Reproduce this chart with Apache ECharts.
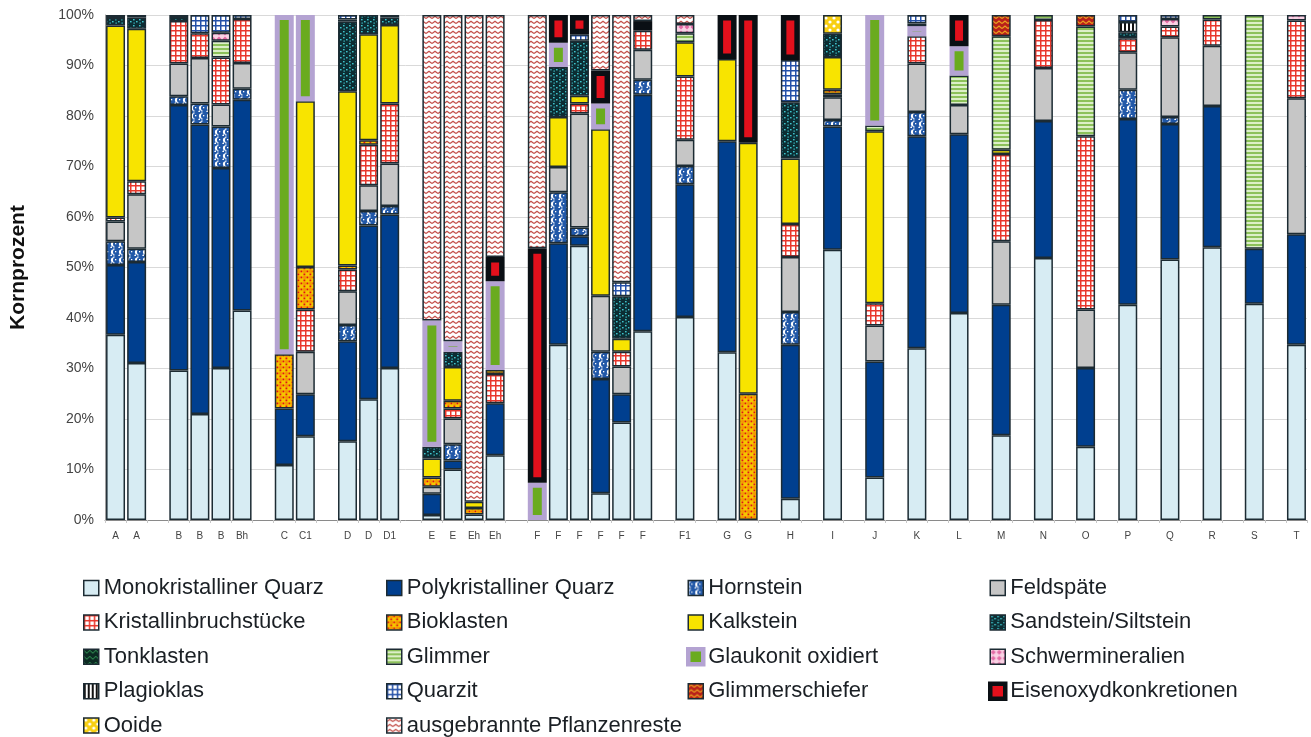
<!DOCTYPE html>
<html><head><meta charset="utf-8">
<script src="https://cdn.jsdelivr.net/npm/echarts@6/dist/echarts.min.js"></script>
<style>html,body{margin:0;padding:0;background:#fff}#c{width:1311px;height:737px}</style>
</head><body><div id="c"></div>
<script>
// x slots ('' = empty gap slot)
const categories = ['A','A','','B','B','B','Bh','','C','C1','','D','D','D1','','E','E','Eh','Eh','','F','F','F','F','F','F','','F1','','G','G','','H','','I','','J','','K','','L','','M','','N','','O','','P','','Q','','R','','S','','T'];
const yTicks = [0,10,20,30,40,50,60,70,80,90,100];
// values per real bar (order: A A | B B B Bh | C C1 | D D D1 | E E Eh Eh | F F F F F F | F1 | G G | H I J K L M N O P Q R S T)
const mono   = [36.7,31.1, 29.6,21.0,30.1,41.5, 10.9,16.6, 15.6,23.9,30.1, 1.0,10.0,1.1,12.8, 0,34.7,54.3,5.3,19.3,37.4, 40.2, 33.2,0, 4.2,53.5,8.4,34.0,41.0,16.8,51.9,14.5,42.6,51.6,54.0,42.8,34.7];
const poly   = [13.8,20.0, 52.6,57.3,39.6,41.7, 11.2,8.3, 19.8,34.4,30.4, 4.2,1.8,0,10.3, 0,20.1,1.9,22.6,5.6,46.8, 26.3, 41.8,0, 30.5,24.4,23.0,42.0,35.4,25.8,27.1,15.6,36.8,26.8,28.0,10.9,21.9];
const horn   = [4.7,2.6, 1.7,4.2,8.2,2.2, 0,0, 3.2,2.9,1.7, 0,3.2,0,0, 0,10.1,1.7,5.4,0,3.0, 3.6, 0,0, 6.5,1.3,0,4.8,0,0,0,0,5.8,1.4,0,0,0];
const feld   = [3.9,10.8, 6.5,9.0,4.4,5.1, 0,8.4, 6.7,5.1,8.4, 1.4,5.1,0,0, 0,5.0,22.6,11.1,5.5,5.9, 5.2, 0,0, 10.9,4.5,7.1,9.6,5.8,12.6,10.5,11.6,7.4,15.8,11.9,0,26.9];
const krist  = [0.8,2.6, 8.4,4.9,9.3,8.7, 0,8.4, 4.3,8.0,11.9, 0,2.0,0,5.8, 0,0,2.0,0,2.9,3.8, 12.5, 0,0, 6.5,0.6,4.4,5.4,0,17.3,9.5,34.3,2.8,2.1,5.2,0,15.4];
const bio    = [0,0, 0,0,0,0, 10.7,8.4, 0.8,0.9,0, 1.8,1.5,1.3,0.8, 0,0,0,0,0,0, 0, 0,25.0, 0,0.9,0,0,0,0,0,0,0,0,0,0,0];
const kalk   = [38.0,30.2, 0,0,0,0, 0,32.8, 34.5,21.0,15.5, 3.8,6.7,1.2,0, 0,9.9,1.5,33.0,2.6,0, 6.8, 16.3,49.7, 13.0,6.5,34.1,0,0,0.8,0,0,0,0,0,0,0];
const sand   = [1.5,2.2, 0.8,0,0,0, 0,0, 13.8,3.8,1.5, 2.3,3.0,0,0, 0,9.9,10.9,0,8.4,0, 0, 0,0, 11.1,4.6,0,0,0,0,0,0,1.2,0,0,0,0];
const ton    = [0.6,0, 0,0,0,0, 0,0, 0,0,0, 0,0,0,0, 0,0,0,0,0,0, 0, 0,0, 0,0,0,0,0,0,0,0,0,0,0,0,0];
const glim   = [0,0.5, 0,0,3.3,0, 0,0, 0.4,0,0.5, 0,0,0,0, 0,0,0,0,0,0, 1.8, 0,0, 0,0,1.1,0,5.8,22.5,1.0,21.7,0,0,0.9,46.3,0];
const glauk  = [0,0, 0,0,0,0, 67.2,17.1, 0,0,0, 25.0,2.1,0,17.6, 7.4,4.8,0,5.1,0,0, 0, 0,0, 0,0,21.9,2.0,5.8,0,0,0,0,0,0,0,0];
const schwer = [0,0, 0,0,1.6,0, 0,0, 0,0,0, 0,0,0,0, 0,0,0,0,0,0, 1.8, 0,0, 0,0,0,0,0,0,0,0,0,1.5,0,0,1.1];
const plag   = [0,0, 0,0,0,0, 0,0, 0,0,0, 0,0,0,0, 0,0,0,0,0,0, 0, 0,0, 0,0,0,0.5,0,0,0,0,2.0,0,0,0,0];
const quarzit= [0,0, 0,3.6,3.5,0.8, 0,0, 0.9,0,0, 0,0,0,0, 0,0,1.3,0,2.8,0, 0, 0,0, 8.4,0,0,1.7,0,0,0,0,1.4,0.8,0,0,0];
const gschie = [0,0, 0.4,0,0,0, 0,0, 0,0,0, 0,0,0,0, 0,0,0,0,0,0, 0, 0,0, 0,0,0,0,0,4.2,0,2.3,0,0,0,0,0];
const eisen  = [0,0, 0,0,0,0, 0,0, 0,0,0, 0,0,0,4.8, 46.4,5.5,3.8,6.5,0,1.9, 0, 8.7,25.3, 8.9,0,0,0,6.2,0,0,0,0,0,0,0,0];
const ooide  = [0,0, 0,0,0,0, 0,0, 0,0,0, 0,0,0,0, 0,0,0,0,0,0, 0, 0,0, 0,3.7,0,0,0,0,0,0,0,0,0,0,0];
const pflanz = [0,0, 0,0,0,0, 0,0, 0,0,0, 60.5,64.6,96.4,47.9, 46.2,0,0,11.0,52.9,1.2, 1.8, 0,0, 0,0,0,0,0,0,0,0,0,0,0,0,0];

function tile(w,h,draw){const c=document.createElement('canvas');c.width=w;c.height=h;const g=c.getContext('2d');draw(g);return {image:c,repeat:'repeat'};}
const P = {
  horn: tile(8,8,g=>{g.fillStyle='#fff';g.fillRect(0,0,8,8);g.fillStyle='#2158a8';g.beginPath();g.arc(4,4,3,0,7);g.fill();g.beginPath();g.arc(0,0,1.8,0,7);g.arc(8,0,1.8,0,7);g.arc(0,8,1.8,0,7);g.arc(8,8,1.8,0,7);g.fill();g.fillStyle='#fff';g.fillRect(3,3,1.3,1.3);}),
  krist: tile(5,5,g=>{g.fillStyle='#e8372c';g.fillRect(0,0,5,5);g.fillStyle='#fff';g.fillRect(1.5,1.5,3.5,3.5);}),
  quarzit: tile(5,5,g=>{g.fillStyle='#2450a8';g.fillRect(0,0,5,5);g.fillStyle='#fff';g.fillRect(1.5,1.5,3.5,3.5);}),
  bio: tile(6,6,g=>{g.fillStyle='#f6c600';g.fillRect(0,0,6,6);g.fillStyle='#f39a00';g.beginPath();g.arc(4.5,1.5,1.6,0,7);g.fill();g.fillStyle='#e0101a';g.fillRect(0.5,0.5,1.8,1.8);g.fillRect(3.5,3.5,1.8,1.8);}),
  sand: tile(6,6,g=>{g.fillStyle='#0c2d33';g.fillRect(0,0,6,6);g.fillStyle='#3fc3cc';g.fillRect(1,1,1.6,1.4);g.fillRect(4,3,1.6,1.4);g.fillRect(1.5,4.5,1.3,1.2);}),
  ton: tile(6,6,g=>{g.fillStyle='#0b2a22';g.fillRect(0,0,6,6);g.strokeStyle='#36a05a';g.lineWidth=1;g.beginPath();g.moveTo(0,1);g.lineTo(3,4);g.lineTo(6,1);g.stroke();}),
  glim: tile(4,4,g=>{g.fillStyle='#dcefc8';g.fillRect(0,0,4,4);g.fillStyle='#8cc15a';g.fillRect(0,0,4,2);}),
  schwer: tile(6,6,g=>{g.fillStyle='#f9d2e4';g.fillRect(0,0,6,6);g.fillStyle='#e26aa4';g.beginPath();g.moveTo(3,0.5);g.lineTo(5.5,3);g.lineTo(3,5.5);g.lineTo(0.5,3);g.fill();}),
  plag: tile(4,4,g=>{g.fillStyle='#fff';g.fillRect(0,0,4,4);g.fillStyle='#111';g.fillRect(0,0,2,4);}),
  gschie: tile(6,5,g=>{g.fillStyle='#b8201a';g.fillRect(0,0,6,5);g.strokeStyle='#e9a020';g.lineWidth=1.3;g.beginPath();g.moveTo(0,3.5);g.lineTo(3,1);g.lineTo(6,3.5);g.stroke();}),
  ooide: tile(8,8,g=>{g.fillStyle='#f8cf10';g.fillRect(0,0,8,8);g.fillStyle='#fff';g.beginPath();g.arc(2,2,1.6,0,7);g.fill();g.beginPath();g.arc(6,6,1.6,0,7);g.fill();}),
  pflanz: tile(6,5,g=>{g.fillStyle='#fff';g.fillRect(0,0,6,5);g.strokeStyle='#c4504a';g.lineWidth=1.3;g.beginPath();g.moveTo(0,3.5);g.lineTo(3,1.2);g.lineTo(6,3.5);g.stroke();})
};
const BC = '#1c2b33';
const defs = [
  ['Monokristalliner Quarz', mono, '#d7ecf3'],
  ['Polykristalliner Quarz', poly, '#003f8f'],
  ['Hornstein', horn, P.horn],
  ['Feldspäte', feld, '#c6c6c6'],
  ['Kristallinbruchstücke', krist, P.krist],
  ['Bioklasten', bio, P.bio],
  ['Kalkstein', kalk, '#f8e400'],
  ['Sandstein/Siltstein', sand, P.sand],
  ['Tonklasten', ton, P.ton],
  ['Glimmer', glim, P.glim],
  ['Glaukonit oxidiert', glauk, '#6aab1f', '#b4a3d2', 5],
  ['Schwermineralien', schwer, P.schwer],
  ['Plagioklas', plag, P.plag],
  ['Quarzit', quarzit, P.quarzit],
  ['Glimmerschiefer', gschie, P.gschie],
  ['Eisenoxydkonkretionen', eisen, '#e2101c', '#0a0f14', 5.5],
  ['Ooide', ooide, P.ooide],
  ['ausgebrannte Pflanzenreste', pflanz, P.pflanz]
];
function toSlots(arr){let k=0;return categories.map(c=>{if(c==='')return '-';const v=arr[k++];return v>0?v:'-';});}
const series = defs.map(d=>({
  name:d[0], type:'bar', stack:'total', barWidth:'90%',
  data: toSlots(d[1]),
  itemStyle:{color:d[2], borderColor:d[3]||BC, borderWidth:d[4]||1.5},
  emphasis:{disabled:true}
}));
const thick = {'Glaukonit oxidiert':{borderColor:'#b4a3d2',borderWidth:4.5}, 'Eisenoxydkonkretionen':{borderColor:'#0a0f14',borderWidth:4.5}};
const cols = [
  ['Monokristalliner Quarz','Kristallinbruchstücke','Tonklasten','Plagioklas','Ooide'],
  ['Polykristalliner Quarz','Bioklasten','Glimmer','Quarzit','ausgebrannte Pflanzenreste'],
  ['Hornstein','Kalkstein','Glaukonit oxidiert','Glimmerschiefer'],
  ['Feldspäte','Sandstein/Siltstein','Schwermineralien','Eisenoxydkonkretionen']
];
const colX = [83,386,686,988];
const legends = cols.map((c,i)=>({
  data:c.map(n=>thick[n]?{name:n,itemStyle:thick[n]}:n), orient:'vertical', left:colX[i], top:577, height:200, itemWidth:15, itemHeight:15, itemGap:12.4,
  icon:'rect', selectedMode:false, padding:0,
  itemStyle:{borderColor:BC, borderWidth:1.5},
  textStyle:{fontSize:22, fontFamily:'Liberation Sans, Arial, sans-serif', color:'#1a1f24', lineHeight:22}
}));
const chart = echarts.init(document.getElementById('c'));
chart.setOption({
  animation:false,
  backgroundColor:'#fff',
  grid:{left:104, right:4, top:15, bottom:217},
  legend:legends,
  xAxis:{type:'category', data:categories,
    axisLine:{lineStyle:{color:'#8a8a8a'}},
    axisTick:{show:true, interval:0, length:3, lineStyle:{color:'#c8c8c8'}},
    axisLabel:{interval:0, fontSize:10, color:'#444', fontFamily:'Liberation Sans, Arial, sans-serif', margin:11}},
  yAxis:{type:'value', min:yTicks[0], max:yTicks[yTicks.length-1], interval:10,
    name:'Kornprozent', nameLocation:'middle', nameGap:76,
    nameTextStyle:{fontSize:21, fontWeight:'bold', color:'#111', fontFamily:'Liberation Sans, Arial, sans-serif'},
    axisLine:{show:true, lineStyle:{color:'#a0a0a0'}},
    axisTick:{show:false},
    splitLine:{lineStyle:{color:'#d9d9d9'}},
    axisLabel:{formatter:'{value}%', fontSize:14, color:'#444', margin:11, fontFamily:'Liberation Sans, Arial, sans-serif'}},
  series:series
});
</script></body></html>
